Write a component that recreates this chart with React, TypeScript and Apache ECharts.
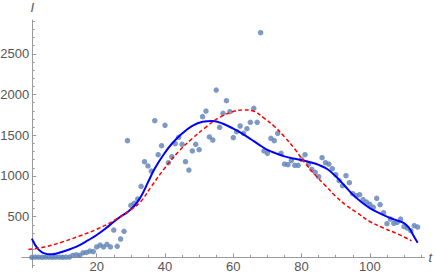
import React, { useEffect, useRef } from "react";
import * as echarts from "echarts";

// Observed data points (t, I)
const pointT: number[] = Array.from({ length: 114 }, (_, i) => i + 1);
const pointI: number[] = [
  0, 2, 1, 0, 2, 1, 0, 2, 1, 0, 2, 3, 25, 30, 25, 55, 60, 77, 70, 127,
  151, 127, 160, 127, 335, 135, 225, 319, 1433, 638, 663, 716, 872, 1175, 1122, 1060, 1678, 1261, 1371, 1621,
  1162, 1236, 1396, 1474, 1388, 1175, 1072, 1306, 1388, 1322, 1728, 1797, 1478, 1441, 2055, 1597, 1769, 1924, 1789, 1470,
  1543, 1613, 1523, 1580, 1658, 1830, 1658, 2759, 1306, 1277, 1462, 1433, 1523, 1277, 1146, 1138, 1187, 1130, 1130, 1204,
  1261, 1146, 1081, 1044, 990, 1224, 1162, 1146, 1089, 1015, 941, 880, 1003, 916, 781, 757, 769, 708, 679, 651,
  614, 725, 646, 548, 413, 470, 418, 430, 470, 376, 360, 327, 388, 372,
];

// Solid blue fitted curve, read at sample t values
const blueT: number[] = [1, 2, 3, 4, 5, 6, 7, 8, 10, 12.5, 15, 17.5, 20, 22.5, 25, 27, 29, 31, 33, 35, 37, 39.5, 42, 45, 48, 51, 54, 57, 60, 62.5, 65, 67.5, 70, 72.5, 75, 77.5, 80, 82.5, 85, 87.5, 90, 92.5, 95, 97.5, 100, 102.5, 105, 107.5, 110, 111.5, 113, 114];
const blueI: number[] = [230, 150, 95, 62, 45, 38, 38, 44, 69, 105, 150, 210, 274, 350, 438, 500, 555, 630, 750, 920, 1090, 1257, 1395, 1520, 1615, 1665, 1674, 1640, 1580, 1523, 1455, 1385, 1320, 1277, 1240, 1214, 1195, 1168, 1135, 1085, 995, 885, 770, 680, 605, 548, 500, 460, 420, 360, 250, 180];

// Dashed red model curve
const redT: number[] = [0, 5, 10, 15, 20, 25, 30, 33, 36, 40, 44, 48, 52, 56, 60, 63, 66, 69, 72, 75, 78, 81, 84, 87, 90, 93, 96, 100, 104, 108, 112.2];
const redI: number[] = [95, 130, 190, 262, 344, 450, 585, 690, 870, 1100, 1300, 1460, 1600, 1720, 1790, 1810, 1795, 1710, 1610, 1480, 1330, 1160, 1010, 880, 750, 640, 555, 440, 360, 290, 204];

const xMajor: number[] = [20, 40, 60, 80, 100];
const xMinor: number[] = [5, 10, 15, 25, 30, 35, 45, 50, 55, 65, 70, 75, 85, 90, 95, 105, 110, 115];
const yMajor: number[] = [500, 1000, 1500, 2000, 2500];
const yMinor: number[] = [-100, 100, 200, 300, 400, 600, 700, 800, 900, 1100, 1200, 1300, 1400, 1600, 1700, 1800, 1900, 2100, 2200, 2300, 2400, 2600, 2700, 2800, 2900];

const X_MIN = -2;
const X_MAX = 116;
const Y_MIN = -130;
const Y_MAX = 2915;

export default function App() {
  const ref = useRef<HTMLDivElement>(null);
  useEffect(() => {
    if (!ref.current) return;
    const chart = echarts.init(ref.current, undefined, { renderer: "svg" });
    const axisColor = "#9a9a9a";
    const labelColor = "#555555";
    const font = "Liberation Sans, Arial, sans-serif";
    const yOffset = -10.6;
    const plain = (v: number) => String(v);
    chart.setOption({
      animation: false,
      backgroundColor: "#ffffff",
      grid: {
        left: 21.6,
        right: 11.5,
        top: 20,
        bottom: 8.1,
        containLabel: false,
        outerBoundsMode: "none",
      },
      xAxis: [
        {
          type: "value",
          min: X_MIN,
          max: X_MAX,
          position: "bottom",
          name: "t",
          nameLocation: "end",
          nameGap: 4,
          nameTextStyle: { fontStyle: "italic", color: labelColor, fontSize: 13, fontFamily: font },
          axisLine: { show: true, onZero: true, onZeroAxisIndex: 0, lineStyle: { color: axisColor, width: 1 } },
          axisTick: { show: true, inside: true, length: 4, customValues: xMajor, lineStyle: { color: axisColor } },
          axisLabel: { show: true, customValues: xMajor, formatter: plain, color: labelColor, fontSize: 13, margin: -7.6, fontFamily: font },
          splitLine: { show: false },
        },
        {
          type: "value",
          min: X_MIN,
          max: X_MAX,
          position: "bottom",
          axisLine: { show: false, onZero: true, onZeroAxisIndex: 0 },
          axisTick: { show: true, inside: true, length: 2.5, customValues: xMinor, lineStyle: { color: axisColor } },
          axisLabel: { show: false },
          splitLine: { show: false },
        },
      ],
      yAxis: [
        {
          type: "value",
          min: Y_MIN,
          max: Y_MAX,
          position: "left",
          offset: yOffset,
          name: "I",
          nameLocation: "end",
          nameGap: 6,
          nameTextStyle: { fontStyle: "italic", color: labelColor, fontSize: 13, fontFamily: font, align: "center" },
          axisLine: { show: true, onZero: false, lineStyle: { color: axisColor, width: 1 } },
          axisTick: { show: true, inside: true, length: 4, customValues: yMajor, lineStyle: { color: axisColor } },
          axisLabel: { show: true, customValues: yMajor, formatter: plain, color: labelColor, fontSize: 13, margin: 3, fontFamily: font },
          splitLine: { show: false },
        },
        {
          type: "value",
          min: Y_MIN,
          max: Y_MAX,
          position: "left",
          offset: yOffset,
          axisLine: { show: false, onZero: false },
          axisTick: { show: true, inside: true, length: 2.5, customValues: yMinor, lineStyle: { color: axisColor } },
          axisLabel: { show: false },
          splitLine: { show: false },
        },
      ],
      series: [
        {
          type: "scatter",
          xAxisIndex: 0,
          yAxisIndex: 0,
          symbolSize: 5.5,
          itemStyle: { color: "#5E81B5" },
          data: pointT.map((t, i) => [t, pointI[i]]),
          z: 2,
        },
        {
          type: "line",
          xAxisIndex: 0,
          yAxisIndex: 0,
          smooth: 0.4,
          showSymbol: false,
          lineStyle: { color: "#0000FF", width: 2 },
          data: blueT.map((t, i) => [t, blueI[i]]),
          z: 3,
        },
        {
          type: "line",
          xAxisIndex: 0,
          yAxisIndex: 0,
          smooth: 0.4,
          showSymbol: false,
          lineStyle: { color: "#FF0000", width: 1.5, type: [4, 2.5] },
          data: redT.map((t, i) => [t, redI[i]]),
          z: 4,
        },
      ],
    });
    return () => chart.dispose();
  }, []);
  return (
    <div
      ref={ref}
      style={{ position: "fixed", left: 0, top: 0, width: 436, height: 276, background: "#fff" }}
    />
  );
}
